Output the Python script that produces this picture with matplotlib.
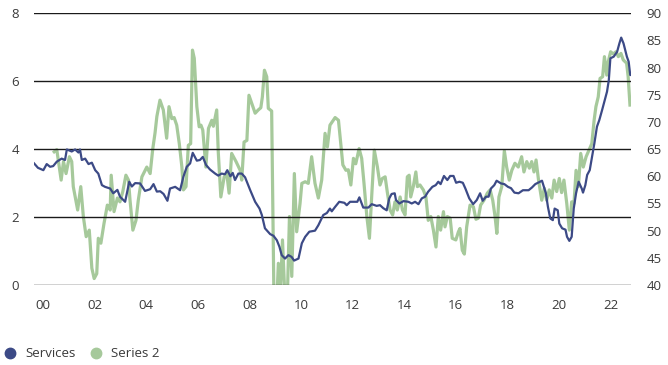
import matplotlib
matplotlib.use("Agg")
import matplotlib.pyplot as plt
from matplotlib.lines import Line2D
import numpy as np

plt.rcParams['font.family'] = ['Open Sans', 'DejaVu Sans']

# Services (left axis), decimal years
svc_t = [1999.65, 1999.80, 2000.01, 2000.14, 2000.27, 2000.39, 2000.53, 2000.72, 2000.85, 2000.92,
         2001.11, 2001.24, 2001.37, 2001.43, 2001.50, 2001.63, 2001.76, 2001.89, 2002.02, 2002.14,
         2002.28, 2002.40, 2002.60, 2002.72, 2002.88, 2002.98, 2003.18, 2003.34, 2003.44, 2003.57,
         2003.76, 2003.95, 2004.15, 2004.28, 2004.41, 2004.54, 2004.67, 2004.82, 2004.92, 2005.12,
         2005.31, 2005.44, 2005.57, 2005.70, 2005.80, 2005.96, 2006.08, 2006.19, 2006.32, 2006.47,
         2006.67, 2006.79, 2006.92, 2007.05, 2007.14, 2007.26, 2007.35, 2007.44, 2007.57, 2007.70,
         2007.83, 2008.03, 2008.22, 2008.39, 2008.48, 2008.60, 2008.80, 2008.93, 2009.06, 2009.16,
         2009.25, 2009.38, 2009.51, 2009.63, 2009.73, 2009.90, 2010.03, 2010.16, 2010.32, 2010.54,
         2010.67, 2010.86, 2011.00, 2011.12, 2011.19, 2011.32, 2011.48, 2011.68, 2011.77, 2011.90,
         2012.18, 2012.26, 2012.41, 2012.61, 2012.74, 2012.93, 2013.06, 2013.19, 2013.32, 2013.42,
         2013.51, 2013.63, 2013.68, 2013.81, 2013.97, 2014.16, 2014.29, 2014.42, 2014.55, 2014.68,
         2014.81, 2014.92, 2015.09, 2015.22, 2015.32, 2015.41, 2015.54, 2015.67, 2015.78, 2015.91,
         2016.01, 2016.14, 2016.27, 2016.37, 2016.52, 2016.67, 2016.81, 2016.94, 2017.04, 2017.17,
         2017.27, 2017.36, 2017.49, 2017.58, 2017.75, 2017.88, 2018.02, 2018.14, 2018.27, 2018.43,
         2018.60, 2018.82, 2018.95, 2019.08, 2019.34, 2019.49, 2019.57, 2019.66, 2019.76, 2019.83,
         2019.95, 2020.01, 2020.12, 2020.25, 2020.31, 2020.40, 2020.49, 2020.57, 2020.66, 2020.76,
         2020.88, 2020.93, 2021.02, 2021.09, 2021.19, 2021.28, 2021.37, 2021.47, 2021.56, 2021.67,
         2021.77, 2021.86, 2021.93, 2021.99, 2022.12, 2022.25, 2022.34, 2022.41, 2022.50, 2022.63,
         2022.70, 2022.76, 2022.80]
svc_v = [3.58, 3.45, 3.38, 3.56, 3.48, 3.50, 3.63, 3.72, 3.68, 3.99,
         3.93, 3.99, 3.90, 3.99, 3.68, 3.72, 3.56, 3.60, 3.38, 3.28,
         2.94, 2.89, 2.84, 2.70, 2.80, 2.60, 2.45, 3.04, 2.90, 3.00,
         2.99, 2.77, 2.82, 2.97, 2.75, 2.76, 2.68, 2.48, 2.84, 2.89,
         2.79, 3.19, 3.48, 3.58, 3.89, 3.66, 3.68, 3.77, 3.53, 3.40,
         3.28, 3.22, 3.28, 3.26, 3.38, 3.20, 3.30, 3.09, 3.28, 3.28,
         3.17, 2.79, 2.45, 2.25, 2.06, 1.67, 1.50, 1.45, 1.32, 1.13,
         0.88, 0.78, 0.88, 0.83, 0.72, 0.78, 1.23, 1.42, 1.57, 1.60,
         1.76, 2.06, 2.12, 2.25, 2.17, 2.30, 2.45, 2.42, 2.35, 2.45,
         2.45, 2.58, 2.28, 2.28, 2.38, 2.33, 2.35, 2.26, 2.20, 2.55,
         2.68, 2.70, 2.50, 2.40, 2.47, 2.45, 2.40, 2.45, 2.38, 2.55,
         2.60, 2.74, 2.89, 2.94, 3.04, 2.97, 3.21, 3.09, 3.21, 3.21,
         3.01, 3.04, 3.01, 2.84, 2.55, 2.38, 2.50, 2.70, 2.48, 2.60,
         2.60, 2.84, 2.94, 3.07, 2.99, 2.97, 2.89, 2.85, 2.72, 2.70,
         2.79, 2.79, 2.87, 2.97, 3.07, 2.70, 2.30, 1.96, 1.91, 2.25,
         2.20, 1.81, 1.67, 1.63, 1.42, 1.30, 1.42, 2.25, 2.70, 3.04,
         2.84, 2.72, 2.94, 3.24, 3.38, 3.77, 4.17, 4.66, 4.85, 5.15,
         5.44, 5.69, 6.03, 6.67, 6.72, 6.86, 7.11, 7.28, 7.11, 6.72,
         6.57, 6.18, 6.18]

# Series 2 (right axis), decimal years
s2_t = [2000.43, 2000.53, 2000.70, 2000.79, 2000.89, 2001.02, 2001.11, 2001.17, 2001.34, 2001.46,
        2001.56, 2001.67, 2001.79, 2001.89, 2001.98, 2002.08, 2002.14, 2002.24, 2002.36, 2002.49,
        2002.60, 2002.64, 2002.75, 2002.88, 2002.98, 2003.09, 2003.21, 2003.31, 2003.37, 2003.48,
        2003.60, 2003.69, 2003.83, 2004.02, 2004.15, 2004.25, 2004.34, 2004.41, 2004.53, 2004.66,
        2004.79, 2004.88, 2004.99, 2005.08, 2005.18, 2005.28, 2005.38, 2005.44, 2005.54, 2005.63,
        2005.72, 2005.79, 2005.86, 2005.96, 2006.05, 2006.12, 2006.19, 2006.31, 2006.41, 2006.54,
        2006.60, 2006.73, 2006.79, 2006.89, 2007.02, 2007.12, 2007.21, 2007.31, 2007.48, 2007.64,
        2007.70, 2007.79, 2007.90, 2007.98, 2008.09, 2008.22, 2008.34, 2008.44, 2008.50, 2008.58,
        2008.67, 2008.73, 2008.86, 2008.95, 2009.06, 2009.12, 2009.19, 2009.28, 2009.38, 2009.47,
        2009.55, 2009.64, 2009.74, 2009.83, 2009.96, 2010.03, 2010.16, 2010.28, 2010.41, 2010.54,
        2010.67, 2010.80, 2010.86, 2010.93, 2011.02, 2011.12, 2011.32, 2011.45, 2011.54, 2011.62,
        2011.74, 2011.83, 2011.93, 2012.03, 2012.12, 2012.25, 2012.35, 2012.44, 2012.55, 2012.65,
        2012.74, 2012.84, 2012.96, 2013.06, 2013.15, 2013.26, 2013.34, 2013.45, 2013.55, 2013.64,
        2013.73, 2013.84, 2013.93, 2014.03, 2014.12, 2014.19, 2014.25, 2014.35, 2014.45, 2014.51,
        2014.61, 2014.74, 2014.84, 2014.93, 2015.03, 2015.13, 2015.23, 2015.32, 2015.41, 2015.52,
        2015.58, 2015.67, 2015.78, 2015.86, 2016.00, 2016.10, 2016.16, 2016.25, 2016.33, 2016.42,
        2016.55, 2016.68, 2016.78, 2016.87, 2016.96, 2017.09, 2017.22, 2017.33, 2017.43, 2017.52,
        2017.59, 2017.67, 2017.78, 2017.88, 2017.97, 2018.07, 2018.17, 2018.29, 2018.42, 2018.55,
        2018.64, 2018.75, 2018.85, 2018.94, 2019.03, 2019.11, 2019.20, 2019.33, 2019.43, 2019.52,
        2019.62, 2019.72, 2019.81, 2019.91, 2020.01, 2020.10, 2020.19, 2020.30, 2020.40, 2020.49,
        2020.58, 2020.66, 2020.75, 2020.84, 2020.94, 2021.05, 2021.16, 2021.27, 2021.36, 2021.43,
        2021.52, 2021.59, 2021.69, 2021.76, 2021.85, 2021.91, 2022.00, 2022.10, 2022.21, 2022.30,
        2022.40, 2022.49, 2022.62, 2022.68, 2022.75]
s2_v = [64.5, 64.9, 59.3, 62.7, 60.5, 63.6, 62.7, 58.1, 53.8, 58.1,
        52.6, 48.9, 50.1, 43.1, 41.2, 42.1, 48.6, 47.7, 51.3, 54.7,
        53.8, 60.2, 53.5, 56.0, 55.3, 57.2, 60.2, 59.3, 55.6, 50.1,
        51.9, 55.6, 59.9, 61.7, 60.5, 65.0, 68.0, 71.0, 74.0, 72.2,
        67.0, 72.8, 70.6, 70.8, 69.4, 66.0, 61.7, 57.5, 58.1, 65.7,
        66.0, 83.2, 81.7, 72.8, 69.1, 69.4, 68.5, 61.7, 68.8, 70.3,
        69.2, 72.2, 64.5, 56.2, 59.9, 60.5, 56.9, 64.2, 62.7, 61.1,
        59.3, 66.3, 66.6, 74.9, 73.4, 71.6, 72.2, 72.6, 74.6, 79.5,
        78.3, 72.5, 72.0, 37.0, 37.0, 44.0, 37.5, 48.3, 37.0, 38.0,
        52.6, 41.6, 60.5, 49.8, 55.0, 58.7, 59.0, 58.7, 63.6, 58.7,
        56.0, 59.3, 63.3, 67.9, 65.4, 69.4, 70.8, 70.3, 66.0, 62.1,
        61.1, 61.2, 58.4, 63.3, 62.3, 65.1, 63.3, 58.7, 52.6, 48.6,
        56.5, 64.8, 61.7, 58.4, 59.6, 59.9, 57.2, 53.8, 52.9, 55.3,
        53.8, 56.2, 53.8, 52.9, 59.9, 60.2, 56.2, 58.1, 60.8, 58.1,
        58.4, 57.5, 56.2, 51.9, 52.6, 50.1, 47.0, 52.6, 50.1, 53.5,
        50.7, 52.6, 52.3, 48.6, 48.3, 49.8, 50.4, 46.4, 45.7, 50.7,
        54.7, 54.4, 52.1, 52.3, 54.7, 55.6, 56.9, 57.5, 55.6, 52.6,
        49.5, 56.2, 58.1, 64.7, 61.7, 59.3, 61.1, 62.4, 61.7, 63.6,
        60.8, 62.7, 61.5, 62.7, 60.8, 63.0, 59.5, 55.6, 57.8, 55.6,
        57.5, 56.0, 59.3, 57.2, 59.6, 57.0, 59.3, 55.0, 50.1, 55.3,
        55.0, 61.1, 58.1, 64.2, 61.7, 63.6, 64.8, 66.0, 70.3, 72.8,
        74.6, 78.0, 78.3, 82.0, 78.6, 81.1, 82.9, 82.5, 82.9, 82.0,
        82.6, 81.4, 80.8, 78.3, 73.1]

year_ticks = [2000, 2002, 2004, 2006, 2008, 2010, 2012, 2014, 2016, 2018, 2020, 2022]
year_labels = ["00", "02", "04", "06", "08", "10", "12", "14", "16", "18", "20", "22"]

blue = "#3c4a86"
green = "#a6c99b"
txt = "#3a3a3a"

fig = plt.figure(figsize=(6.68, 3.65), dpi=100)
ax = fig.add_axes([0.051, 0.219, 0.894, 0.745])
ax2 = ax.twinx()

ax2.plot(s2_t, s2_v, color=green, lw=2.3, solid_joinstyle="round")
ax.plot(svc_t, svc_v, color=blue, lw=1.6, solid_joinstyle="round")
ax.set_zorder(ax2.get_zorder() + 1)
ax.patch.set_visible(False)

ax.set_xlim(1999.65, 2022.8)
ax.set_ylim(0, 8)
ax.set_yticks([0, 2, 4, 6, 8])
ax2.set_ylim(40, 90)
ax2.set_yticks(np.arange(40, 91, 5))

ax.set_xticks(year_ticks)
ax.set_xticklabels(year_labels)

for a in (ax, ax2):
    for s in a.spines.values():
        s.set_visible(False)
    a.tick_params(length=0, labelsize=9.5, labelcolor=txt)
ax.tick_params(axis="y", pad=11)
ax.tick_params(axis="x", pad=10)
ax2.tick_params(axis="y", pad=11)

ax.grid(axis="y", color="#1a1a1a", lw=1.0)
ax.set_axisbelow(True)

handles = [Line2D([], [], marker="o", ls="none", markersize=7.5, color=blue),
           Line2D([], [], marker="o", ls="none", markersize=7.5, color=green)]
fig.legend(handles, ["Services", "Series 2"], loc="lower left", bbox_to_anchor=(-0.022, -0.02),
           frameon=False, fontsize=9.5, handletextpad=0.1, columnspacing=0.6, ncol=2,
           labelcolor=txt)

fig.savefig("out.png", dpi=100)
